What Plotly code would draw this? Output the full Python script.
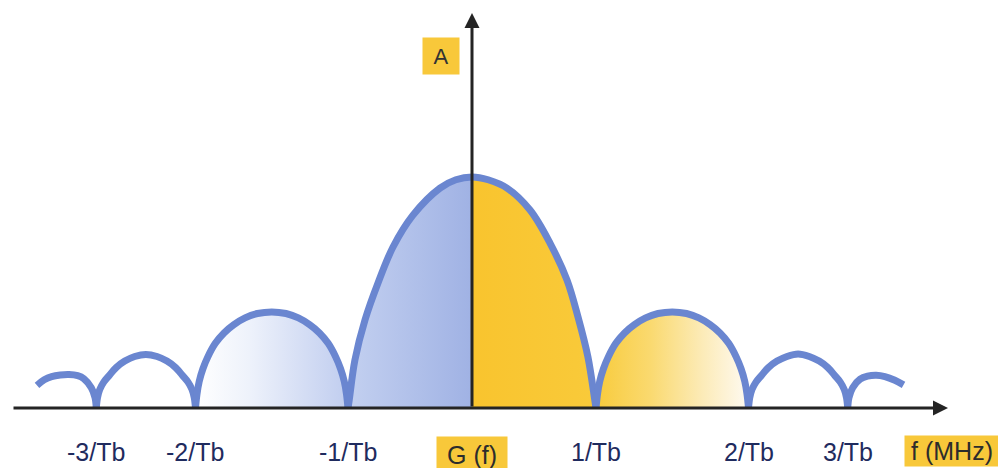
import plotly.graph_objects as go

# ---------------- data (frequency in units of 1/Tb as drawn, amplitude relative to main peak) ----------------
main_f_left = [-1.0, -0.99, -0.944, -0.863, -0.758, -0.637, -0.476, -0.258, -0.13, 0.0]
main_a_left = [0.0, 0.035, 0.208, 0.381, 0.541, 0.697, 0.835, 0.952, 0.988, 1.0]
main_f_right = [0.0, 0.13, 0.282, 0.468, 0.629, 0.766, 0.855, 0.935, 0.99, 1.0]
main_a_right = [1.0, 0.988, 0.952, 0.857, 0.714, 0.554, 0.394, 0.221, 0.035, 0.0]

side1_f_left = [-2.23, -2.218, -2.2, -2.17, -2.13, -2.07, -2.0, -1.92, -1.83, -1.73, -1.615,
                -1.5, -1.4, -1.31, -1.23, -1.16, -1.1, -1.06, -1.03, -1.012, -1.0]
side1_a_left = [0.0, 0.06, 0.115, 0.17, 0.222, 0.28, 0.325, 0.361, 0.39, 0.409, 0.416,
                0.409, 0.39, 0.361, 0.325, 0.28, 0.222, 0.17, 0.115, 0.06, 0.0]
side1_f_right = [1.0, 1.012, 1.03, 1.06, 1.1, 1.16, 1.23, 1.31, 1.4, 1.5, 1.615,
                 1.73, 1.83, 1.92, 2.0, 2.07, 2.13, 2.17, 2.2, 2.218, 2.23]
side1_a_right = [0.0, 0.06, 0.115, 0.17, 0.222, 0.28, 0.325, 0.361, 0.39, 0.409, 0.416,
                 0.409, 0.39, 0.361, 0.325, 0.28, 0.222, 0.17, 0.115, 0.06, 0.0]

side2_f_left = [-3.03, -3.02, -3.002, -2.97, -2.93, -2.87, -2.80, -2.72, -2.63,
                -2.54, -2.46, -2.39, -2.33, -2.29, -2.258, -2.24, -2.23]
side2_a_left = [0.0, 0.045, 0.08, 0.112, 0.138, 0.175, 0.203, 0.223, 0.232,
                0.223, 0.203, 0.175, 0.138, 0.112, 0.08, 0.045, 0.0]
side2_f_right = [2.23, 2.24, 2.258, 2.29, 2.33, 2.39, 2.46, 2.54, 2.63,
                 2.72, 2.80, 2.87, 2.93, 2.97, 3.002, 3.02, 3.03]
side2_a_right = [0.0, 0.045, 0.08, 0.112, 0.138, 0.175, 0.203, 0.223, 0.234,
                 0.223, 0.203, 0.175, 0.138, 0.112, 0.08, 0.045, 0.0]

tail_f_left = [-3.508, -3.45, -3.39, -3.32, -3.25, -3.18, -3.13, -3.07, -3.04, -3.03]
tail_a_left = [0.098, 0.122, 0.136, 0.143, 0.145, 0.14, 0.127, 0.088, 0.045, 0.0]
tail_f_right = [3.03, 3.04, 3.07, 3.13, 3.19, 3.26, 3.33, 3.41, 3.48]
tail_a_right = [0.0, 0.045, 0.088, 0.125, 0.138, 0.142, 0.136, 0.12, 0.1]

tick_f = [-3.03, -2.23, -1.0, 1.0, 2.23, 3.03]
tick_text = ["-3/Tb", "-2/Tb", "-1/Tb", "1/Tb", "2/Tb", "3/Tb"]
y_name = "A"
origin_name = "G (f)"
x_name = "f (MHz)"

# ---------------- style ----------------
W, H = 998, 468
PX_X, PX_Y = 124.0, 231.0          # pixels per data unit
ORIGIN_X, ORIGIN_Y = 472, 408      # pixel position of (0, 0)
STROKE = "#6a86d0"
AXIS = "#242424"
YELLOW = "#f8c83a"
FONT = "Liberation Sans, Arial, sans-serif"

fig = go.Figure()

fills = [
    (main_f_left, main_a_left, [[0, "#c3d0f0"], [1, "#a0b2e4"]]),
    (main_f_right, main_a_right, [[0, "#f9c42e"], [1, "#f9ca3a"]]),
    (side1_f_left, side1_a_left, [[0, "#ffffff"], [0.35, "#eef2fb"], [1, "#c0cdef"]]),
    (side1_f_right, side1_a_right, [[0, "#f8cb3c"], [0.35, "#fad96e"], [0.7, "#fcebb8"], [1, "#fefaf2"]]),
]
for fx, fy, cs in fills:
    fig.add_trace(go.Scatter(
        x=fx, y=fy, mode="lines", line=dict(width=0, shape="spline", color="rgba(0,0,0,0)"),
        fill="tozeroy", fillgradient=dict(type="horizontal", colorscale=cs),
        hoverinfo="skip", showlegend=False))

main_f = main_f_left + main_f_right[1:]
main_a = main_a_left + main_a_right[1:]
for fx, fy in [(tail_f_left, tail_a_left), (side2_f_left, side2_a_left), (side1_f_left, side1_a_left),
               (main_f, main_a), (side1_f_right, side1_a_right), (side2_f_right, side2_a_right),
               (tail_f_right, tail_a_right)]:
    fig.add_trace(go.Scatter(
        x=fx, y=fy, mode="lines", line=dict(width=7, color=STROKE, shape="spline"),
        hoverinfo="skip", showlegend=False))

ann = []
# axes drawn as arrows
X_TIP = 948
Y_TIP = 13
ann.append(dict(x=X_TIP / W, xref="paper", y=0, yref="y", ax=-(X_TIP - 12), ay=0,
                axref="pixel", ayref="pixel", showarrow=True, arrowhead=2, arrowsize=1.0,
                arrowwidth=3, arrowcolor=AXIS, text=""))
ann.append(dict(x=0, xref="x", y=1 - Y_TIP / H, yref="paper", ax=0, ay=ORIGIN_Y - Y_TIP,
                axref="pixel", ayref="pixel", showarrow=True, arrowhead=2, arrowsize=1.0,
                arrowwidth=3, arrowcolor=AXIS, text=""))
# tick labels
for f, t in zip(tick_f, tick_text):
    ann.append(dict(x=f, xref="x", y=(H - 452) / H, yref="paper", yanchor="middle", xanchor="center",
                    text=t, showarrow=False, font=dict(family=FONT, size=25, color="#1f2b5e")))
# boxed labels
ann.append(dict(x=0, xref="x", y=(H - 455) / H, yref="paper", yanchor="middle", xanchor="center",
                text=origin_name, showarrow=False, bgcolor=YELLOW, width=68, height=34, borderpad=1,
                font=dict(family=FONT, size=25, color="#2c2c2c")))
ann.append(dict(x=952 / W, xref="paper", y=(H - 450.5) / H, yref="paper", yanchor="middle", xanchor="center",
                text=x_name, showarrow=False, bgcolor=YELLOW, width=92, height=28, borderpad=1,
                font=dict(family=FONT, size=25, color="#2c2c2c")))
ann.append(dict(x=441 / W, xref="paper", y=1 - 56 / H, yref="paper", yanchor="middle", xanchor="center",
                text=y_name, showarrow=False, bgcolor=YELLOW, width=34, height=34, borderpad=1,
                font=dict(family=FONT, size=22, color="#333333")))

fig.update_layout(
    width=W, height=H, autosize=False,
    margin=dict(l=0, r=0, t=0, b=0, pad=0),
    paper_bgcolor="white", plot_bgcolor="white",
    xaxis=dict(range=[-ORIGIN_X / PX_X, (W - ORIGIN_X) / PX_X], visible=False, fixedrange=True),
    yaxis=dict(range=[-(H - ORIGIN_Y) / PX_Y, ORIGIN_Y / PX_Y], visible=False, fixedrange=True),
    annotations=ann,
    showlegend=False,
)

fig.write_html("out.html", config={"displayModeBar": False},
               post_script="document.body.style.margin='0';")
